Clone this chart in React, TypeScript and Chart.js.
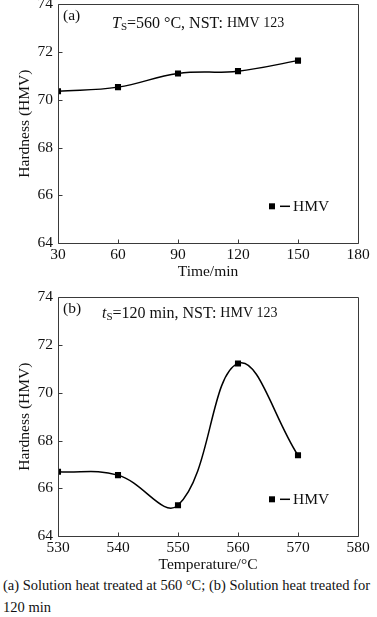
import React, { useEffect, useRef } from "react";
import { Chart, registerables } from "chart.js";

Chart.register(...registerables);

// ---- data ----
const timeMin = [30, 60, 90, 120, 150];
const hardnessA = [70.36, 70.53, 71.1, 71.2, 71.64];
const tempC = [530, 540, 550, 560, 570];
const hardnessB = [66.69, 66.55, 65.29, 71.23, 67.38];
const yTicks = [64, 66, 68, 70, 72, 74];
const xTicksA = [30, 60, 90, 120, 150, 180];
const xTicksB = [530, 540, 550, 560, 570, 580];
const seriesLabel = "HMV";
const yTitle = "Hardness (HMV)";
const xTitleA = "Time/min";
const xTitleB = "Temperature/°C";
const panelTagA = "(a)";
const panelTagB = "(b)";
const captionLine1 = "(a) Solution heat treated at 560 °C; (b) Solution heat treated for";
const captionLine2 = "120 min";

const FONT = "'Liberation Serif', 'Times New Roman', serif";
const AXIS = "#3a3a3a";
const INK = "#111";

type Part = { t: string; font: string; dy?: number };

const decorPlugin = {
  id: "decor",
  afterDraw(chart: any, _args: any, opts: any) {
    const { ctx, chartArea } = chart;
    const { left, right, top, bottom } = chartArea;
    const xs = chart.scales.x;
    const ys = chart.scales.y;
    ctx.save();
    // frame
    ctx.strokeStyle = AXIS;
    ctx.lineWidth = 1;
    ctx.beginPath();
    ctx.rect(Math.round(left) + 0.5, Math.round(top) + 0.5, Math.round(right - left), Math.round(bottom - top));
    ctx.stroke();
    // inward ticks
    ctx.beginPath();
    xs.ticks.forEach((t: any) => {
      const px = Math.round(xs.getPixelForValue(t.value)) + 0.5;
      ctx.moveTo(px, Math.round(bottom) + 0.5);
      ctx.lineTo(px, Math.round(bottom) + 0.5 - 4);
    });
    ys.ticks.forEach((t: any) => {
      const py = Math.round(ys.getPixelForValue(t.value)) + 0.5;
      ctx.moveTo(Math.round(left) + 0.5, py);
      ctx.lineTo(Math.round(left) + 0.5 + 4, py);
    });
    ctx.stroke();

    // panel tag
    ctx.fillStyle = INK;
    ctx.textBaseline = "middle";
    ctx.textAlign = "left";
    ctx.font = "15.5px " + FONT;
    ctx.fillText(opts.tag, left + opts.tagDx, top + opts.tagDy);

    // rich annotation
    let x = left + opts.noteDx;
    const y = top + opts.noteDy;
    (opts.parts as Part[]).forEach((p) => {
      ctx.font = p.font;
      ctx.fillText(p.t, x, y + (p.dy || 0));
      x += ctx.measureText(p.t).width;
    });

    // legend
    const ds = chart.data.datasets[0];
    const lx = left + opts.legDx;
    const ly = top + opts.legDy;
    ctx.fillStyle = "#000";
    ctx.fillRect(lx - 3, ly - 3, 6, 6);
    ctx.strokeStyle = "#000";
    ctx.lineWidth = 1.5;
    ctx.beginPath();
    ctx.moveTo(lx + 8, ly);
    ctx.lineTo(lx + 18, ly);
    ctx.stroke();
    ctx.fillStyle = INK;
    ctx.font = "15.5px " + FONT;
    ctx.fillText(ds.label, lx + 21, ly + 0.5);
    ctx.restore();
  },
};

type PanelProps = {
  top: number;
  xs: number[];
  ys: number[];
  xTicks: number[];
  xTitle: string;
  tag: string;
  parts: Part[];
  noteDx: number;
  noteDy: number;
};

function Panel(p: PanelProps) {
  const ref = useRef<HTMLCanvasElement | null>(null);
  useEffect(() => {
    if (!ref.current) return;
    const chart = new Chart(ref.current, {
      type: "line",
      data: {
        datasets: [
          {
            label: seriesLabel,
            data: p.xs.map((x, i) => ({ x, y: p.ys[i] })),
            borderColor: "#000",
            backgroundColor: "#000",
            borderWidth: 1.5,
            tension: 0.4,
            pointStyle: "rect",
            pointRadius: 4.3,
            pointBorderWidth: 0,
            pointBackgroundColor: "#000",
            fill: false,
          },
        ],
      },
      options: {
        animation: false,
        responsive: false,
        maintainAspectRatio: false,
        layout: { padding: { left: 0, right: 19, top: 14, bottom: 0 } },
        plugins: {
          legend: { display: false },
          tooltip: { enabled: false },
          decor: {
            tag: p.tag,
            tagDx: 5,
            tagDy: 12,
            parts: p.parts,
            noteDx: p.noteDx,
            noteDy: p.noteDy,
            legDx: 214,
            legDy: 202,
          },
        } as any,
        scales: {
          x: {
            type: "linear",
            min: p.xTicks[0],
            max: p.xTicks[p.xTicks.length - 1],
            afterBuildTicks: (s: any) => {
              s.ticks = p.xTicks.map((v) => ({ value: v }));
            },
            afterFit: (s: any) => {
              s.height = 37;
            },
            grid: { display: false, drawTicks: false },
            border: { display: false },
            ticks: {
              color: INK,
              padding: 3,
              maxRotation: 0,
              autoSkip: false,
              font: { family: FONT, size: 15.5 },
            },
            title: {
              display: true,
              text: p.xTitle,
              color: INK,
              padding: { top: 0, bottom: 0 },
              font: { family: FONT, size: 15.5, lineHeight: 1.05 },
            },
          },
          y: {
            type: "linear",
            min: yTicks[0],
            max: yTicks[yTicks.length - 1],
            afterBuildTicks: (s: any) => {
              s.ticks = yTicks.map((v) => ({ value: v }));
            },
            afterFit: (s: any) => {
              s.width = 58;
            },
            grid: { display: false, drawTicks: false },
            border: { display: false },
            ticks: {
              color: INK,
              padding: 5,
              autoSkip: false,
              font: { family: FONT, size: 15.5 },
            },
            title: {
              display: true,
              text: yTitle,
              color: INK,
              padding: { top: 17, bottom: 0 },
              font: { family: FONT, size: 15.5, lineHeight: 1.05 },
            },
          },
        },
      },
      plugins: [decorPlugin],
    });
    return () => chart.destroy();
  }, []);
  return (
    <canvas
      ref={ref}
      width={377}
      height={290}
      style={{ position: "absolute", left: 0, top: p.top, width: 377, height: 290 }}
    />
  );
}

export default function App() {
  const big = "16px " + FONT;
  const it = "italic 16px " + FONT;
  const sub = "11px " + FONT;
  const small = "14px " + FONT;
  return (
    <div style={{ position: "absolute", left: 0, top: 0, width: 377, height: 617, background: "#fff", overflow: "hidden" }}>
      <Panel
        top={-10}
        xs={timeMin}
        ys={hardnessA}
        xTicks={xTicksA}
        xTitle={xTitleA}
        tag={panelTagA}
        parts={[
          { t: "T", font: it },
          { t: "S", font: sub, dy: 4 },
          { t: "=560 °C, NST: ", font: big },
          { t: "HMV 123", font: small },
        ]}
        noteDx={54}
        noteDy={19}
      />
      <Panel
        top={283}
        xs={tempC}
        ys={hardnessB}
        xTicks={xTicksB}
        xTitle={xTitleB}
        tag={panelTagB}
        parts={[
          { t: "t", font: it },
          { t: "S", font: sub, dy: 4 },
          { t: "=120 min, NST: ", font: big },
          { t: "HMV 123", font: small },
        ]}
        noteDx={44}
        noteDy={16}
      />
      <div
        style={{
          position: "absolute",
          left: 3,
          top: 574,
          fontFamily: FONT,
          fontSize: 14.5,
          lineHeight: "22px",
          color: "#111",
          whiteSpace: "nowrap",
        }}
      >
        {captionLine1}
        <br />
        {captionLine2}
      </div>
    </div>
  );
}
